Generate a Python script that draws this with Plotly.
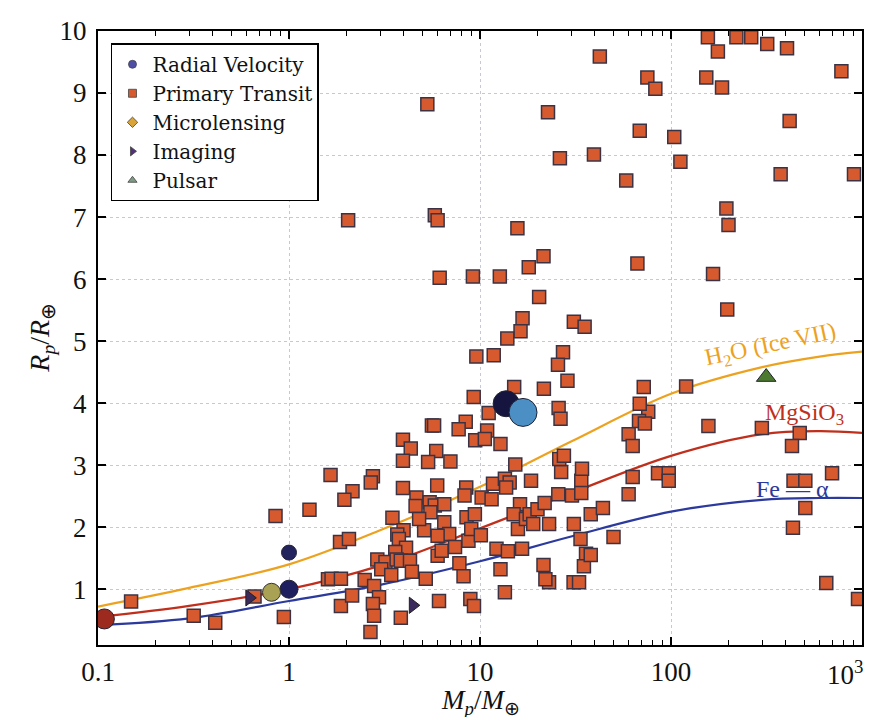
import math
import plotly.graph_objects as go

# ---------------- data ----------------
transit_mass = [
    42.4, 156, 220, 263, 319, 405, 176, 780, 75.2, 82.8, 153, 185, 418, 68.6, 104, 39.5, 112, 58.3, 375, 908,
    195, 200, 66.7, 166, 197, 31, 35.3, 5.3, 22.7, 26.2,
    2.04, 5.8, 6.0, 15.7, 21.5, 18.0, 6.15, 9.18, 12.7, 20.4, 16.7, 16.3, 13.9, 9.57, 11.8, 27.2, 25.6, 28.7,
    15.1, 21.6,
    9.27, 25.8, 26.4, 11.1, 5.6, 5.75, 8.42, 7.73, 3.95, 4.34, 5.9, 3.95, 5.35, 7.0, 10.9, 9.44, 10.6, 12.8,
    15.3, 18.5, 3.95, 4.65, 5.97, 8.47, 11.7, 13.5, 14.3, 13.7, 33.9, 8.3, 10.2, 11.5, 16.2, 25.7, 30.3, 33.9,
    1.65, 2.75, 2.68, 2.15, 1.95, 0.85, 1.28, 3.48, 3.98, 3.69, 3.76, 5.1, 1.85, 2.06, 4.1, 3.6, 2.9, 3.2,
    3.66, 3.85, 4.3,
    0.149, 0.317, 0.411, 0.66, 0.94, 1.6, 1.67, 1.87, 1.87, 2.14, 2.49, 2.79, 2.96, 2.75, 2.79, 2.67, 3.04,
    3.43, 4.4, 3.85, 5.2, 6.0, 6.3, 6.1, 5.45, 5.8, 6.5, 5.5, 6.5,
    120, 157, 299, 472, 430, 85.5, 97.3, 97.3, 438, 505, 697, 505, 435, 650, 953, 76,
    6.9, 7.4, 7.8, 8.2, 8.7, 8.9, 9.3, 8.5, 9.4, 9.0, 10.1, 12.2, 12.8, 13.5, 14.0, 15.0, 15.8, 16.6, 17.4,
    18.2, 19.0, 20.0, 21.8, 23.0, 21.5, 23.0, 22.0, 26.6, 26.0, 4.6, 4.8, 6.0,
    27.5, 34.2, 38, 31, 44, 33.6, 35.9, 35, 30.9, 33, 38, 50, 60, 63, 68.6, 68, 60, 72, 63, 73,
]
transit_radius = [
    9.59, 9.90, 9.90, 9.90, 9.79, 9.72, 9.67, 9.35, 9.25, 9.07, 9.25, 9.09, 8.55, 8.39, 8.29, 8.01, 7.89, 7.59,
    7.69, 7.69, 7.14, 6.87, 6.25, 6.08, 5.51, 5.31, 5.23, 8.82, 8.69, 7.95,
    6.95, 7.03, 6.95, 6.82, 6.37, 6.19, 6.02, 6.04, 6.04, 5.71, 5.37, 5.16, 5.04, 4.75, 4.77, 4.82, 4.62, 4.36,
    4.26, 4.23,
    4.10, 3.92, 3.75, 3.84, 3.64, 3.64, 3.70, 3.58, 3.41, 3.27, 3.23, 3.07, 3.05, 3.06, 3.56, 3.40, 3.42, 3.34,
    3.01, 2.75, 2.63, 2.48, 2.67, 2.64, 2.70, 2.78, 2.72, 2.64, 2.75, 2.51, 2.48, 2.45, 2.37, 2.53, 2.51, 2.55,
    2.84, 2.82, 2.72, 2.58, 2.44, 2.18, 2.28, 2.15, 1.95, 1.88, 1.81, 1.95, 1.76, 1.81, 1.67, 1.60, 1.48, 1.44,
    1.48, 1.46, 1.46,
    0.80, 0.57, 0.46, 0.88, 0.55, 1.16, 1.17, 1.17, 0.73, 0.90, 1.15, 1.05, 0.87, 0.76, 0.57, 0.31, 1.32,
    1.23, 1.28, 0.54, 1.17, 1.54, 1.62, 0.81, 2.40, 2.35, 2.37, 2.24, 2.08,
    4.27, 3.63, 3.60, 3.52, 3.31, 2.87, 2.87, 2.75, 2.75, 2.75, 2.87, 2.31, 1.99, 1.10, 0.84, 3.86,
    1.89, 1.68, 1.42, 1.21, 1.78, 0.84, 0.73, 2.16, 2.21, 1.97, 1.87, 1.65, 1.32, 0.95, 1.61, 2.21, 1.97, 1.65,
    2.13, 2.21, 2.05, 2.29, 2.39, 2.05, 1.39, 1.11, 1.16, 2.89, 3.10, 2.34, 2.13, 1.86,
    3.15, 2.94, 2.21, 2.05, 2.31, 1.81, 1.57, 1.37, 1.11, 1.11, 1.55, 1.84, 2.53, 2.81, 3.99, 3.71, 3.50, 4.26,
    3.31, 3.67,
]

rv_mass = [0.108, 1.0, 1.0, 13.7, 16.8]
rv_radius = [0.52, 1.0, 1.59, 3.99, 3.85]
rv_size = [20, 18, 15, 26, 28]
rv_color = ["#9c2a1e", "#1e1f5e", "#23245e", "#15153f", "#4b8fc4"]

micro_mass = [0.81]
micro_radius = [0.95]

imaging_mass = [0.62, 4.45]
imaging_radius = [0.86, 0.74]

pulsar_mass = [315]
pulsar_radius = [4.42]

curve_mass = [0.1, 0.3, 1, 3, 10, 30, 100, 300, 600, 1000]
fe_radius = [0.42, 0.53, 0.81, 1.07, 1.45, 1.85, 2.25, 2.44, 2.47, 2.47]
mgsio3_radius = [0.55, 0.73, 1.00, 1.38, 1.98, 2.55, 3.15, 3.50, 3.55, 3.52]
h2o_radius = [0.72, 1.02, 1.40, 1.95, 2.65, 3.38, 4.15, 4.58, 4.75, 4.83]

curve_labels = ["H<sub>2</sub>O (Ice VII)", "MgSiO<sub>3</sub>", "Fe — α"]
label_mass = [330, 497, 431]
label_radius = [4.92, 3.83, 2.62]
label_angle = [-12, 0, 0]

x_tickvals = [0.1, 1, 10, 100, 1000]
x_ticktext = ["0.1", "1", "10", "100", ""]
last_tick_text = "10<sup>3</sup>"
y_tickvals = [1, 2, 3, 4, 5, 6, 7, 8, 9, 10]

x_title = "<i>M</i><sub><i>p</i></sub>/<i>M</i><sub>⊕</sub>"
y_title = "<i>R</i><sub><i>p</i></sub>/<i>R</i><sub>⊕</sub>"

# ---------------- style ----------------
SERIF = "Liberation Serif"
ORANGE = "#eda21f"
RED = "#bf2f1c"
BLUE = "#2b3a9c"
SQ_FILL = "#d65a2e"
SQ_EDGE = "#3b3344"

fig = go.Figure()

for r, col in [(h2o_radius, ORANGE), (mgsio3_radius, RED), (fe_radius, BLUE)]:
    fig.add_trace(go.Scatter(x=curve_mass, y=r, mode="lines", line=dict(color=col, width=2.2, shape="spline"),
                             showlegend=False, hoverinfo="skip"))

fig.add_trace(go.Scatter(x=transit_mass, y=transit_radius, mode="markers", showlegend=False,
                         marker=dict(symbol="square", size=13, color=SQ_FILL, opacity=1,
                                     line=dict(color=SQ_EDGE, width=1.5))))
fig.add_trace(go.Scatter(x=rv_mass, y=rv_radius, mode="markers", showlegend=False,
                         marker=dict(symbol="circle", size=rv_size, color=rv_color, opacity=1,
                                     line=dict(color="#222233", width=1))))
fig.add_trace(go.Scatter(x=micro_mass, y=micro_radius, mode="markers", showlegend=False,
                         marker=dict(symbol="circle", size=18, color="#a9a153", opacity=1,
                                     line=dict(color="#333", width=1))))
fig.add_trace(go.Scatter(x=imaging_mass, y=imaging_radius, mode="markers", showlegend=False,
                         marker=dict(symbol="triangle-right", size=14, color="#3b2a5c", opacity=1,
                                     line=dict(color="#222", width=1))))
fig.add_trace(go.Scatter(x=pulsar_mass, y=pulsar_radius, mode="markers", showlegend=False,
                         marker=dict(symbol="triangle-up", size=17, color="#4c7a2e", opacity=1,
                                     line=dict(color="#223", width=1))))

# legend entries
legend_items = [
    ("Radial Velocity", "circle", "#4e4ea6"),
    ("Primary Transit", "square", SQ_FILL),
    ("Microlensing", "diamond", "#d9a43a"),
    ("Imaging", "triangle-right", "#51307e"),
    ("Pulsar", "triangle-up", "#7f9b86"),
]
for name, sym, col in legend_items:
    fig.add_trace(go.Scatter(x=[None], y=[None], mode="markers", name=name,
                             marker=dict(symbol=sym, size=8, color=col, line=dict(color="#444", width=0.8))))

for txt, m, r, a, col in zip(curve_labels, label_mass, label_radius, label_angle, [ORANGE, RED, BLUE]):
    fig.add_annotation(x=math.log10(m), y=r, text=txt, showarrow=False, textangle=a,
                       xanchor="center", yanchor="middle",
                       font=dict(family=SERIF, size=24, color=col))

# last x tick label (right-anchored so it stays on the page, as in the reference)
fig.add_annotation(x=math.log10(x_tickvals[-1]), xref="x", yref="paper", y=-0.045, text=last_tick_text,
                   showarrow=False, xanchor="right", yanchor="middle", xshift=3,
                   font=dict(family=SERIF, size=27, color="#111"))

# axis titles
fig.add_annotation(xref="paper", yref="paper", x=0.5, y=-0.093, text=x_title, showarrow=False,
                   xanchor="center", yanchor="middle", font=dict(family=SERIF, size=27, color="#111"))
fig.add_annotation(xref="paper", yref="paper", x=-0.075, y=0.5, text=y_title, showarrow=False, textangle=-90,
                   xanchor="center", yanchor="middle", font=dict(family=SERIF, size=28, color="#111"))

minor_vals = [k * 10 ** d for d in range(-1, 3) for k in range(2, 10)]

fig.update_layout(
    width=874, height=717,
    margin=dict(l=90, r=20, t=23, b=80),
    paper_bgcolor="white", plot_bgcolor="white",
    font=dict(family=SERIF, color="#111"),
    legend=dict(x=0.017, y=0.98, xanchor="left", yanchor="top", bgcolor="white",
                bordercolor="black", borderwidth=1.5, font=dict(family="DejaVu Serif", size=20, color="#111"),
                tracegroupgap=0, itemwidth=30),
    xaxis=dict(type="log", range=[-1, 3], tickmode="array", tickvals=x_tickvals, ticktext=x_ticktext,
               ticks="inside", ticklen=8, tickwidth=1.5, tickcolor="black", automargin=False,
               showline=True, linecolor="black", linewidth=2, mirror="allticks",
               showgrid=True, gridcolor="#c6c8d4", gridwidth=1, griddash="dot", zeroline=False,
               minor=dict(tickmode="array", tickvals=minor_vals, ticks="inside", ticklen=5, tickwidth=1.3,
                          tickcolor="black", showgrid=False),
               tickfont=dict(family=SERIF, size=27, color="#111"), ticklabelstandoff=2),
    yaxis=dict(range=[0.1, 10], tickmode="array", tickvals=y_tickvals, automargin=False,
               ticks="inside", ticklen=8, tickwidth=1.5, tickcolor="black",
               showline=True, linecolor="black", linewidth=2, mirror="allticks",
               showgrid=True, gridcolor="#c6c8d4", gridwidth=1, griddash="dot", zeroline=False,
               tickfont=dict(family=SERIF, size=27, color="#111"), ticklabelstandoff=4),
)

fig.write_html("out.html")
